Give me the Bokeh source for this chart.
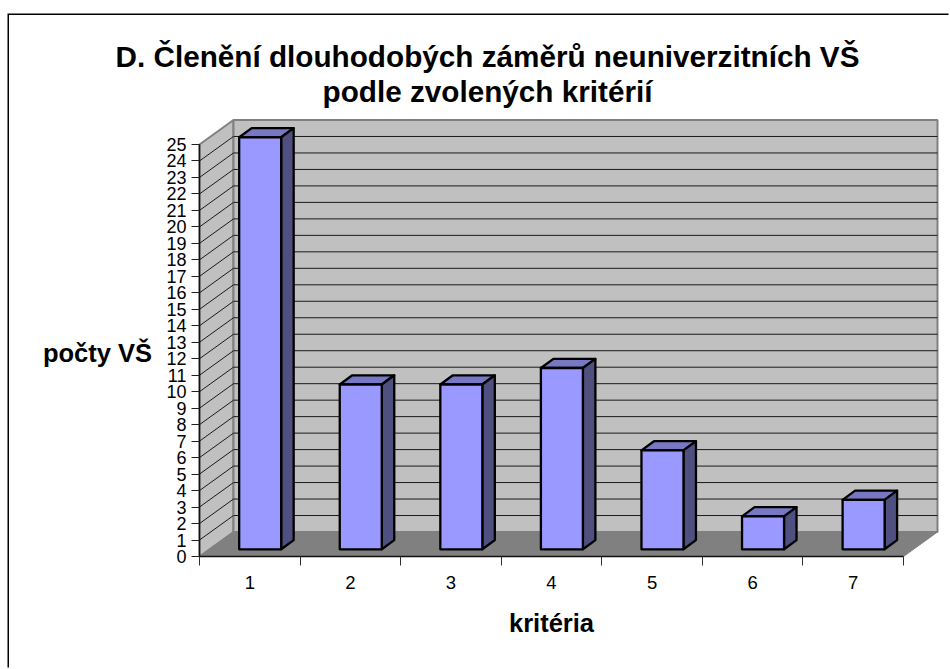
from bokeh.plotting import figure
from bokeh.embed import file_html
from bokeh.resources import INLINE
from bokeh.models import FixedTicker, Range1d
from bokeh.core.properties import value

categories = [1, 2, 3, 4, 5, 6, 7]
values = [25, 10, 10, 11, 6, 2, 3]
y_ticks = list(range(0, 26))
title_lines = ["D. Členění dlouhodobých záměrů neuniverzitních VŠ", "podle zvolených kritérií"]
x_label = "kritéria"
y_label = "počty VŠ"

# layout (picture pixels)
FIG_X, FIG_Y = 9, 15
FIG_W, FIG_H = 941, 654
F_LEFT, F_BOTTOM = 199, 556
PX_X = 100.57   # px per category
PX_Y = 16.48    # px per value unit

dx = 34 / PX_X      # wall depth in data units
dy = 24.5 / PX_Y
bw = 42 / PX_X      # bar front width
bx = 10.4 / PX_X    # bar shift
by = 7.2 / PX_Y     # bar lift
bdx = 12.5 / PX_X   # bar depth
bdy = 9.2 / PX_Y

x0 = 0.5
x1 = 0.5 + len(categories)
top = y_ticks[-1]


def px_x(px):
    return x0 + (px - F_LEFT) / PX_X


def px_y(py):
    return (F_BOTTOM - py) / PX_Y


p = figure(width=FIG_W, height=FIG_H, output_backend="svg", toolbar_location=None,
           x_range=Range1d(px_x(FIG_X), px_x(FIG_X + FIG_W)),
           y_range=Range1d(px_y(FIG_Y + FIG_H), px_y(FIG_Y)),
           min_border=0, margin=(FIG_Y, 0, 0, FIG_X))
p.styles = {"box-shadow": "-1.5px -1.5px 0 0 black"}
p.xgrid.visible = False
p.ygrid.visible = False
p.outline_line_color = None
p.background_fill_color = "white"

wall_edge = "#808080"
# walls and floor
p.patch([x0, x0 + dx, x0 + dx, x0], [0, dy, top + dy, top], fill_color="#C0C0C0", line_color=wall_edge, line_width=2)
p.patch([x0 + dx, x1 + dx, x1 + dx, x0 + dx], [dy, dy, top + dy, top + dy], fill_color="#C0C0C0", line_color=wall_edge, line_width=2)
p.patch([x0, x0 + dx, x1 + dx, x1], [0, dy, dy, 0], fill_color="#808080", line_color="#808080", line_width=1)

# gridlines
gy = y_ticks[1:-1]
p.multi_line([[x0, x0 + dx, x1 + dx] for _ in gy], [[v, v + dy, v + dy] for v in gy], line_color="#1a1a1a", line_width=1)

# bars
front_x, front_y, top_x, top_y, side_x, side_y = [], [], [], [], [], []
for c, v in zip(categories, values):
    l = c - 0.5 + (PX_X - 42) / 2 / PX_X + bx
    r = l + bw
    b = by
    t = by + v
    front_x.append([l, r, r, l]); front_y.append([b, b, t, t])
    top_x.append([l, r, r + bdx, l + bdx]); top_y.append([t, t, t + bdy, t + bdy])
    side_x.append([r, r + bdx, r + bdx, r]); side_y.append([b, b + bdy, t + bdy, t])
p.patches(top_x, top_y, fill_color="#7777C4", line_color="black", line_width=2.3, line_join="round")
p.patches(side_x, side_y, fill_color="#4F4F80", line_color="black", line_width=2.3, line_join="round")
p.patches(front_x, front_y, fill_color="#9999FF", line_color="black", line_width=2.3, line_join="round")

# axes
ax = p.xaxis[0]
ax.fixed_location = 0
ax.ticker = FixedTicker(ticks=categories, minor_ticks=[c - 0.5 for c in categories] + [categories[-1] + 0.5])
ax.bounds = (x0, x1)
ax.major_tick_line_color = None
ax.major_tick_out = 0
ax.major_tick_in = 0
ax.minor_tick_out = 9
ax.minor_tick_in = 0
ax.minor_tick_line_color = "#303030"
ax.axis_line_color = "#101010"
ax.axis_line_width = 1.5
ax.major_label_text_font = "Liberation Sans"
ax.major_label_text_font_size = "18.5px"
ax.major_label_text_color = "black"
ax.major_label_standoff = 10

ay = p.yaxis[0]
ay.fixed_location = x0
ay.ticker = FixedTicker(ticks=y_ticks)
ay.bounds = (0, top)
ay.minor_tick_line_color = None
ay.major_tick_out = 8
ay.major_tick_in = 0
ay.major_tick_line_color = "#202020"
ay.axis_line_color = "#101010"
ay.axis_line_width = 1.5
ay.major_label_text_font = "Liberation Sans"
ay.major_label_text_font_size = "18px"
ay.major_label_text_color = "black"
ay.major_label_standoff = 5


def add_text(text, px, py, size):
    p.text(x=[px_x(px)], y=[px_y(py)], text=[text], text_align="center", text_baseline="middle",
           text_font=value("Liberation Sans"), text_font_style="bold", text_font_size=value(size),
           text_color="black")


add_text(title_lines[0], 487, 55.5, "29.7px")
add_text(title_lines[1], 487, 91, "29.7px")
add_text(x_label, 551, 622, "25.5px")
add_text(y_label, 97, 352.5, "25.5px")

open("out.html", "w").write(file_html(p, INLINE))
